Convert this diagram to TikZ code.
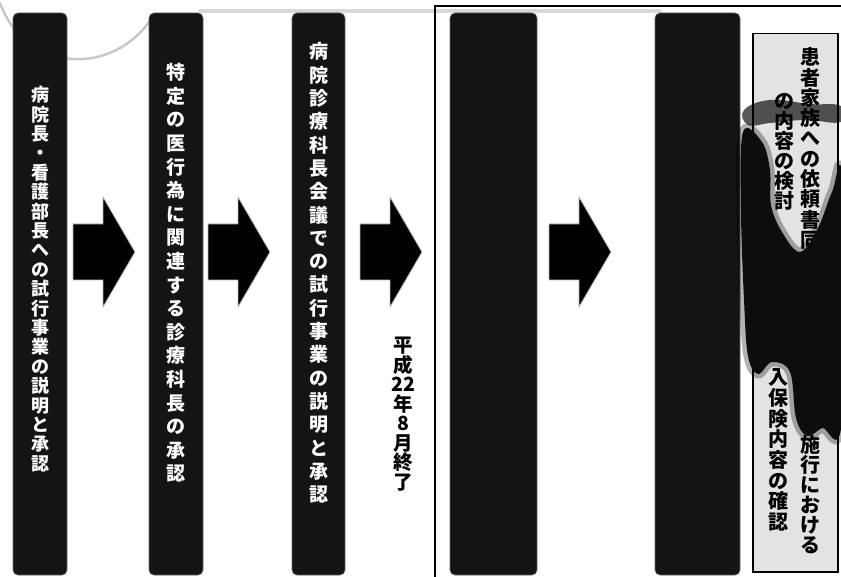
\documentclass[tikz,border=0pt]{standalone}
\usepackage{fontspec}
\newfontfamily\jp{Noto Sans CJK JP}
\tikzset{
  darkbox/.style={fill=black!92, draw=black!60, line width=0.6pt, rounded corners=5pt, inner sep=0pt, minimum height=562pt},
  wtext/.style={text=white, align=center, inner sep=0pt},
  btext/.style={text=black, align=center, inner sep=0pt},
  arrowfill/.style={fill=black, draw=gray!55, line width=0.8pt, line join=miter},
  graybox/.style={fill=gray!22, draw=black, line width=1.8pt, inner sep=0pt, minimum width=85pt},
  blobhalo/.style={draw=black, draw opacity=0.3, line width=9pt, line join=round},
  blobcore/.style={fill=black!95},
  band/.style={fill=black, fill opacity=0.65},
  scan/.style={draw=gray!60, line width=2.5pt, opacity=0.7, line cap=round},
  blockarr/.pic={\path[arrowfill] (0,-28) -- (30,-28) -- (30,-55) -- (62,0) -- (30,55) -- (30,28) -- (0,28) -- cycle;}
}
\newcommand\smearpath{plot[smooth cycle, tension=0.6] coordinates
 {(743,132) (762,142) (770,170) (771,205) (782,232) (800,252) (818,228) (832,192) (842,180)
  (842,420) (822,428) (807,436) (796,418) (790,372) (772,362) (758,374) (748,356) (744,300) (741,210)}}
\begin{document}
\begin{tikzpicture}[x=1pt,y=-1pt]
\useasboundingbox (0,0) rectangle (841,577);
\fill[white] (0,0) rectangle (841,577);
% scan artifacts
\draw[scan] (0,3) .. controls (25,72) and (112,78) .. (152,18);
\draw[scan, line width=3.5pt, opacity=0.5] (200,11) -- (660,11);
% frame
\draw[line width=2.5pt] (435,580) -- (435,6) -- (845,6);
% dark boxes
\node[darkbox, minimum width=54pt] (b1) at (40,294) {};
\node[darkbox, minimum width=54pt] (b2) at (176,294) {};
\node[darkbox, minimum width=53pt] (b3) at (318.5,294) {};
\node[darkbox, minimum width=87pt] (b4) at (493.5,294) {};
\node[darkbox, minimum width=85pt] (b5) at (697.5,294) {};
% texts
\node[wtext, font=\jp\bfseries\fontsize{18}{19.4}\selectfont] (t1) at (40,279)
 {病\\院\\長\\・\\看\\護\\部\\長\\へ\\の\\試\\行\\事\\業\\の\\説\\明\\と\\承\\認};
\node[wtext, font=\jp\bfseries\fontsize{19}{23.6}\selectfont] (t2) at (176,273)
 {特\\定\\の\\医\\行\\為\\に\\関\\連\\す\\る\\診\\療\\科\\長\\の\\承\\認};
\node[wtext, font=\jp\bfseries\fontsize{19}{23.3}\selectfont] (t3) at (318.5,273)
 {病\\院\\診\\療\\科\\長\\会\\議\\で\\の\\試\\行\\事\\業\\の\\説\\明\\と\\承\\認};
\node[btext, font=\jp\bfseries\fontsize{19.5}{19.5}\selectfont] (date) at (403,414)
 {平\\成\\22\\年\\8\\月\\終\\了};
% arrows
\pic at (73,252) {blockarr};
\pic at (208,252) {blockarr};
\pic at (360,252) {blockarr};
\pic at (549,252) {blockarr};
% gray boxes
\node[graybox, minimum height=265pt] (g1) at (795.5,166) {};
\node[graybox, minimum height=270pt] (g2) at (795.5,437) {};
\node[btext, font=\jp\bfseries\fontsize{20}{20.3}\selectfont] (g1r) at (810,148.5)
 {患\\者\\家\\族\\へ\\の\\依\\頼\\書\\同};
\node[btext, font=\jp\bfseries\fontsize{20}{20}\selectfont] (g1l) at (784,152)
 {の\\内\\容\\の\\検\\討};
\node[btext, font=\jp\bfseries\fontsize{20}{20}\selectfont] (g2r) at (810,495)
 {施\\行\\に\\お\\け\\る};
\node[btext, font=\jp\bfseries\fontsize{20}{20.7}\selectfont] (g2l) at (778,450)
 {入\\保\\険\\内\\容\\の\\確\\認};
% redaction smear
\fill[band] plot[smooth cycle, tension=0.7] coordinates
 {(744,110) (770,100) (810,104) (841,106) (841,122) (805,120) (770,123) (748,125)};
\path[blobhalo] \smearpath;
\fill[blobcore] \smearpath;
\end{tikzpicture}
\end{document}
